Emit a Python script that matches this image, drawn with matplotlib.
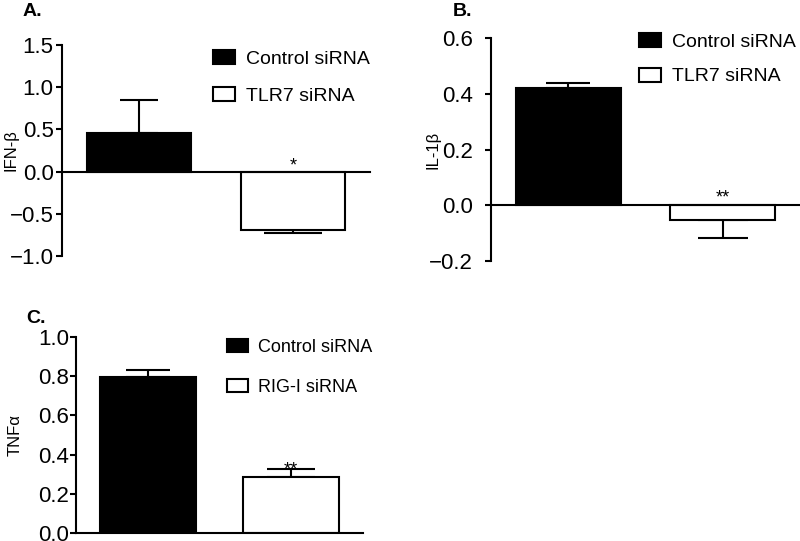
import numpy as np
import matplotlib
matplotlib.use('Agg')
from matplotlib import pyplot as plt

plt.rcParams['font.family'] = ['Liberation Sans', 'DejaVu Sans']

# panel A: IFN-beta
a_labels = ['Control siRNA', 'TLR7 siRNA']
a_vals = [0.46, -0.69]
a_errs = [0.385, 0.036]
a_stars = ['', '*']

# panel B: IL-1beta
b_labels = ['Control siRNA', 'TLR7 siRNA']
b_vals = [0.42, -0.054]
b_errs = [0.02, 0.065]
b_stars = ['', '**']

# panel C: TNF-alpha
c_labels = ['Control siRNA', 'RIG-I siRNA']
c_vals = [0.795, 0.287]
c_errs = [0.035, 0.041]
c_stars = ['', '**']

W, H = 800, 541
fig = plt.figure(figsize=(W/100, H/100), dpi=100)

def px_axes(left, right, top, bottom):
	return fig.add_axes([left/W, 1 - bottom/H, (right-left)/W, (bottom-top)/H])

def panel(ax, vals, errs, labels, stars, ylim, ticks, ylabel, letter, width, caps,
		leg_anchor, leg_size, leg_space, star_off, tpad, lab_x, let_pos):
	x = np.arange(len(vals))
	colors = ['black', 'white']
	for i in range(len(vals)):
		ax.bar(x[i], vals[i], width=width, color=colors[i], edgecolor='black', linewidth=1.5, label=labels[i], zorder=2)
		if vals[i] >= 0:
			yerr = [[0], [errs[i]]]
		else:
			yerr = [[errs[i]], [0]]
		ax.errorbar(x[i], vals[i], yerr=yerr, fmt='none', ecolor='black', elinewidth=1.5, capsize=caps[i], capthick=1.5, zorder=1)
		if stars[i]:
			top = max(0, vals[i] + errs[i])
			ax.annotate(stars[i], (x[i], top), xytext=(0, star_off), textcoords='offset points', ha='center', va='baseline', fontsize=13)
	ax.set_xlim(-0.5, 1.5)
	ax.set_ylim(*ylim)
	ax.set_yticks(ticks)
	ax.set_yticklabels([('%.1f' % t).replace('-', '\u2212') for t in ticks])
	for s in ['top', 'right']:
		ax.spines[s].set_visible(False)
	ax.spines['bottom'].set_position(('data', 0))
	ax.spines['left'].set_linewidth(1.5)
	ax.spines['bottom'].set_linewidth(1.5)
	ax.tick_params(axis='x', bottom=False, labelbottom=False)
	ax.tick_params(axis='y', direction='out', length=4, width=1.5, labelsize=16, pad=tpad)
	ax.set_ylabel(ylabel, fontsize=12)
	ax.yaxis.set_label_coords(lab_x, 0.5)
	ax.legend(loc='upper left', bbox_to_anchor=leg_anchor, frameon=False, fontsize=leg_size,
		handlelength=1.15, handleheight=0.75, handletextpad=0.55, labelspacing=leg_space, borderpad=0, borderaxespad=0)
	ax.text(let_pos[0], let_pos[1], letter, transform=ax.transAxes, fontsize=14, fontweight='bold', ha='left', va='bottom')

axA = px_axes(62, 370, 45, 256)
panel(axA, a_vals, a_errs, a_labels, a_stars, (-1.0, 1.5), [-1.0, -0.5, 0.0, 0.5, 1.0, 1.5], 'IFN-β', 'A.',
	0.68, [14, 21], (0.49, 0.978), 14, 1.0, 1, 2, -0.14, (-0.127, 1.12))

axB = px_axes(491, 800, 38, 261)
panel(axB, b_vals, b_errs, b_labels, b_stars, (-0.2, 0.6), [-0.2, 0.0, 0.2, 0.4, 0.6], 'IL-1β', 'B.',
	0.68, [16, 18], (0.479, 1.022), 14, 0.85, 0, 9, -0.165, (-0.123, 1.08))

axC = px_axes(76, 363, 337, 533)
panel(axC, c_vals, c_errs, c_labels, c_stars, (0.0, 1.0), [0.0, 0.2, 0.4, 0.6, 0.8, 1.0], 'TNFα', 'C.',
	0.67, [16, 17], (0.526, 0.99), 13, 1.25, -4, 1, -0.185, (-0.174, 1.05))

fig.savefig('out.png', dpi=100)
